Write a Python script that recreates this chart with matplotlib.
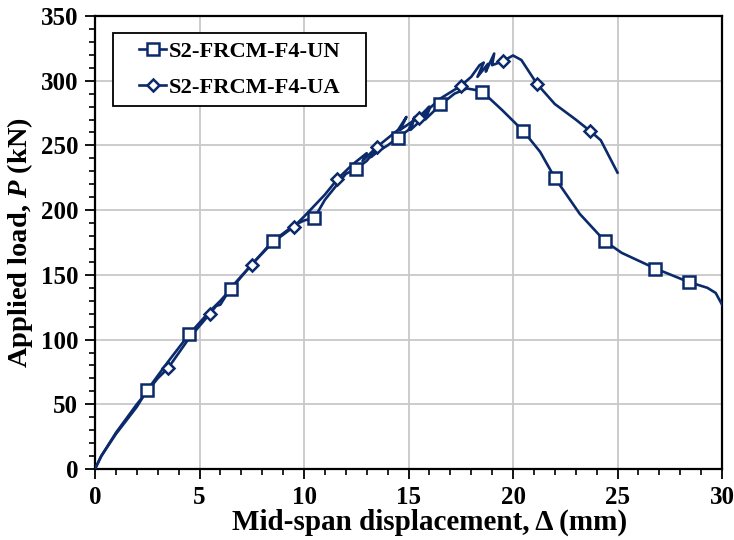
import numpy as np
import matplotlib.pyplot as plt
from matplotlib.patches import Rectangle
from matplotlib.ticker import MultipleLocator

# --- data ---
un_x = [0, 0.3, 1.0, 2.0, 2.5, 3.5, 4.5, 5.5, 6.0, 6.5, 7.5, 8.5, 9.5, 10.0, 10.5,
        11.0, 12.0, 12.5, 13.0, 13.4, 13.2, 13.6, 14.0, 14.5, 15.0, 15.3, 15.1,
        15.5, 16.0, 15.8, 16.5, 17.2, 17.8, 18.5, 19.5, 20.5, 21.3, 22.0, 23.2,
        24.4, 25.2, 26.8, 28.4, 29.3, 29.7, 30.0]
un_y = [0, 10, 27, 48, 61, 83, 104, 122, 130, 139, 158, 176, 188, 192, 194,
        208, 228, 232, 238, 246, 241, 246, 250, 256, 262, 272, 262,
        268, 278, 270, 281, 290, 294, 292, 277, 261, 245, 225, 197,
        176, 167, 155, 144.5, 140, 136, 127]
un_mx = [2.5, 4.5, 6.5, 8.5, 10.5, 12.5, 14.5, 16.5, 18.5, 20.5, 22.0, 24.4, 26.8, 28.4]
un_my = [61, 104, 139, 176, 194, 232, 256, 282, 291, 261, 225, 176, 154.5, 144.5]

ua_x = [0, 0.3, 1.0, 2.0, 3.0, 3.5, 4.5, 5.5, 5.8, 6.0, 6.5, 7.5, 8.5, 9.5,
        10.0, 11.0, 11.6, 12.3, 13.0, 12.8, 13.5, 14.5, 14.9, 14.6, 15.5,
        16.0, 15.7, 16.5, 17.5, 18.0, 18.4, 18.6, 18.3, 18.8, 18.7, 19.1,
        19.0, 19.5, 20.0, 20.4, 21.15, 22.0, 23.0, 23.7, 24.2, 25.0]
ua_y = [0, 10, 28, 50, 70, 78, 101, 120, 126, 127, 140, 158, 175, 187,
        195, 212, 224, 235, 244, 238, 249, 262, 272, 262, 272,
        280, 274, 286, 296, 303, 312, 314, 303, 313, 307, 321,
        312, 315, 319.5, 316, 297.5, 282, 270, 261, 254, 229]
ua_mx = [3.5, 5.5, 7.5, 9.5, 11.6, 13.5, 15.5, 17.5, 19.5, 21.15, 23.7]
ua_my = [78, 120, 158, 187, 224, 249, 271.5, 296, 315, 297.5, 261]

labels = ['S2-FRCM-F4-UN', 'S2-FRCM-F4-UA']
color = '#0b2a6b'

plt.rcParams['font.family'] = ['Liberation Serif', 'DejaVu Serif']
plt.rcParams['font.weight'] = 'bold'
plt.rcParams['mathtext.fontset'] = 'custom'
plt.rcParams['mathtext.rm'] = 'Liberation Serif:bold'
plt.rcParams['mathtext.it'] = 'Liberation Serif:bold:italic'
plt.rcParams['mathtext.bf'] = 'Liberation Serif:bold'

fig = plt.figure(figsize=(7.34, 5.4), dpi=100)
ax = fig.add_axes([95 / 734, 1 - 469 / 540, (722 - 95) / 734, (469 - 16) / 540])

ax.plot(un_x, un_y, color=color, lw=1.9, zorder=3)
ax.plot(un_mx, un_my, ls='none', marker='s', ms=8, mfc='white', mec=color,
        mew=1.8, zorder=4)
ax.plot(ua_x, ua_y, color=color, lw=1.9, zorder=3)
ax.plot(ua_mx, ua_my, ls='none', marker='D', ms=6.5, mfc='white', mec=color,
        mew=1.8, zorder=4)

# legend: own frame box, legend content centred in it
box = Rectangle((0.0287, 0.8013), 0.4035, 0.1611, transform=ax.transAxes,
                facecolor='white', edgecolor='black', lw=1.3, zorder=5)
ax.add_patch(box)
h1, = ax.plot([], [], color=color, lw=1.9, marker='s', ms=8, mfc='white',
              mec=color, mew=1.8)
h2, = ax.plot([], [], color=color, lw=1.9, marker='D', ms=6.5, mfc='white',
              mec=color, mew=1.8)
leg = ax.legend([h1, h2], labels, loc='center', bbox_to_anchor=(0.2305, 0.8819),
                borderaxespad=0, frameon=False,
                prop={'family': 'Liberation Serif', 'weight': 'bold', 'size': 16.2},
                handlelength=1.2, handletextpad=0.1, borderpad=0.2,
                labelspacing=0.7)
leg.set_zorder(6)

ax.set_xlim(0, 30)
ax.set_ylim(0, 350)
ax.xaxis.set_major_locator(MultipleLocator(5))
ax.xaxis.set_minor_locator(MultipleLocator(1))
ax.yaxis.set_major_locator(MultipleLocator(50))
ax.yaxis.set_minor_locator(MultipleLocator(10))
ax.grid(True, which='major', color='#c8c8c8', lw=1.3)
ax.set_axisbelow(True)

ax.tick_params(which='major', direction='out', length=7, width=1.3,
               labelsize=18, pad=5)
ax.tick_params(which='minor', direction='out', length=4, width=1.2)
for s in ax.spines.values():
    s.set_linewidth(1.6)
for t in ax.get_xticklabels() + ax.get_yticklabels():
    t.set_fontweight('bold')

ax.set_xlabel('Mid-span displacement, \u0394 (mm)', fontsize=21,
              fontweight='bold', labelpad=0)
ax.xaxis.set_label_coords((430 - 95) / 627, -0.088)
ax.set_ylabel('Applied load, $P$ (kN)', fontsize=20.5,
              fontweight='bold', labelpad=4)

fig.savefig('out.png', dpi=100)
